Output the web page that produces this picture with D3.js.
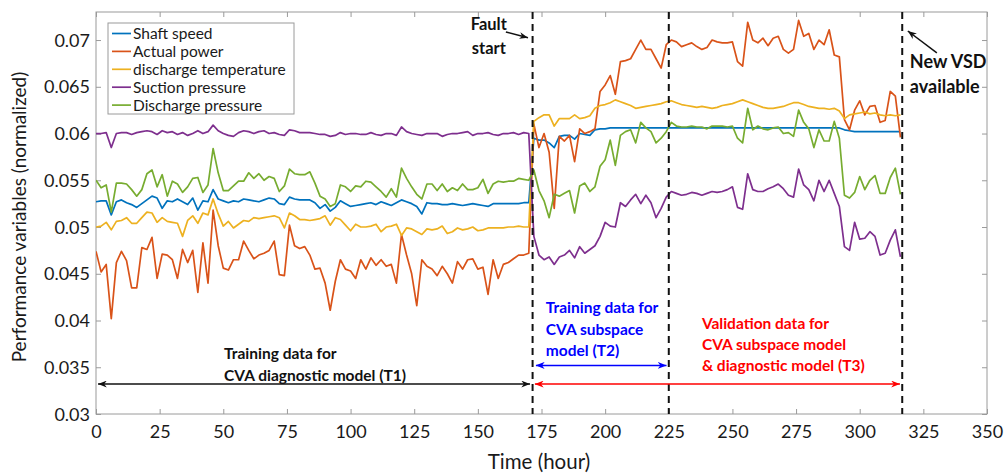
<!DOCTYPE html>
<html><head><meta charset="utf-8">
<script src="https://cdn.jsdelivr.net/npm/d3@7"></script>
<style>html,body{margin:0;padding:0;background:#fff;} svg{display:block;}</style>
</head><body><svg id="chart" width="1005" height="474"></svg>
<script>
// ---------------- data (sampled every 2 hours, 0..316 h) ----------------
const hours = d3.range(0, 317, 2);

const shaftSpeed = [
0.0527,0.0528,0.0528,0.0513,0.0527,0.0529,0.0526,0.0524,0.0521,0.0525,
0.0529,0.0533,0.0531,0.0520,0.0528,0.0527,0.0530,0.0527,0.0524,0.0531,
0.0518,0.0528,0.0527,0.0540,0.0530,0.0528,0.0526,0.0528,0.0527,0.0530,
0.0529,0.0528,0.0527,0.0529,0.0531,0.0530,0.0525,0.0524,0.0532,0.0530,
0.0529,0.0529,0.0529,0.0526,0.0520,0.0524,0.0517,0.0521,0.0528,0.0525,
0.0522,0.0523,0.0524,0.0525,0.0526,0.0524,0.0527,0.0525,0.0523,0.0526,
0.0529,0.0527,0.0525,0.0522,0.0514,0.0526,0.0525,0.0525,0.0524,0.0524,
0.0525,0.0524,0.0523,0.0524,0.0525,0.0524,0.0523,0.0522,0.0525,0.0525,
0.0525,0.0525,0.0525,0.0525,0.0526,0.0526,0.0595,0.0593,0.0593,0.0590,
0.0585,0.0597,0.0598,0.0598,0.0594,0.0600,0.0599,0.0598,0.0604,0.0605,
0.0605,0.0606,0.0606,0.0606,0.0606,0.0606,0.0606,0.0606,0.0606,0.0606,
0.0606,0.0606,0.0606,0.0606,0.0606,0.0606,0.0606,0.0606,0.0606,0.0606,
0.0606,0.0606,0.0606,0.0606,0.0606,0.0606,0.0606,0.0606,0.0606,0.0606,
0.0606,0.0606,0.0606,0.0606,0.0606,0.0606,0.0606,0.0606,0.0606,0.0606,
0.0606,0.0606,0.0606,0.0606,0.0606,0.0606,0.0606,0.0604,0.0603,0.0602,
0.0602,0.0602,0.0602,0.0602,0.0602,0.0602,0.0602,0.0602,0.0602];

const actualPower = [
0.0474,0.0452,0.0460,0.0402,0.0462,0.0474,0.0464,0.0435,0.0435,0.0478,
0.0476,0.0489,0.0445,0.0471,0.0470,0.0465,0.0445,0.0476,0.0462,0.0475,
0.0430,0.0483,0.0440,0.0518,0.0480,0.0456,0.0454,0.0465,0.0465,0.0485,
0.0475,0.0466,0.0470,0.0472,0.0475,0.0485,0.0449,0.0448,0.0502,0.0480,
0.0477,0.0479,0.0470,0.0455,0.0456,0.0440,0.0411,0.0442,0.0465,0.0455,
0.0453,0.0445,0.0465,0.0455,0.0467,0.0459,0.0465,0.0458,0.0460,0.0440,
0.0492,0.0470,0.0450,0.0416,0.0465,0.0458,0.0455,0.0448,0.0458,0.0450,
0.0440,0.0463,0.0455,0.0465,0.0466,0.0455,0.0457,0.0428,0.0465,0.0445,
0.0460,0.0462,0.0466,0.0470,0.0470,0.0472,0.0610,0.0585,0.0600,0.0580,
0.0520,0.0597,0.0592,0.0598,0.0570,0.0605,0.0600,0.0602,0.0605,0.0645,
0.0652,0.0662,0.0642,0.0677,0.0678,0.0680,0.0690,0.0700,0.0690,0.0690,
0.0680,0.0670,0.0695,0.0700,0.0698,0.0693,0.0695,0.0697,0.0693,0.0690,
0.0692,0.0700,0.0698,0.0697,0.0697,0.0698,0.0677,0.0672,0.0719,0.0700,
0.0697,0.0702,0.0694,0.0702,0.0704,0.0690,0.0686,0.0690,0.0721,0.0704,
0.0707,0.0690,0.0700,0.0695,0.0711,0.0684,0.0682,0.0615,0.0604,0.0625,
0.0635,0.0620,0.0629,0.0630,0.0612,0.0614,0.0645,0.0640,0.0596];

const dischargeTemperature = [
0.0500,0.0501,0.0505,0.0497,0.0506,0.0507,0.0510,0.0504,0.0504,0.0510,
0.0516,0.0515,0.0505,0.0510,0.0506,0.0505,0.0504,0.0490,0.0507,0.0512,
0.0504,0.0515,0.0513,0.0530,0.0514,0.0501,0.0506,0.0499,0.0503,0.0507,
0.0506,0.0510,0.0509,0.0510,0.0511,0.0512,0.0510,0.0499,0.0515,0.0512,
0.0508,0.0508,0.0507,0.0508,0.0509,0.0512,0.0502,0.0510,0.0508,0.0502,
0.0496,0.0503,0.0500,0.0500,0.0501,0.0503,0.0495,0.0500,0.0501,0.0503,
0.0491,0.0499,0.0498,0.0495,0.0492,0.0498,0.0497,0.0498,0.0501,0.0493,
0.0495,0.0499,0.0497,0.0498,0.0500,0.0496,0.0497,0.0499,0.0499,0.0499,
0.0499,0.0500,0.0500,0.0501,0.0500,0.0500,0.0613,0.0617,0.0620,0.0620,
0.0608,0.0616,0.0616,0.0616,0.0620,0.0616,0.0617,0.0619,0.0627,0.0630,
0.0631,0.0633,0.0636,0.0634,0.0632,0.0630,0.0627,0.0628,0.0629,0.0630,
0.0631,0.0632,0.0634,0.0635,0.0633,0.0631,0.0630,0.0629,0.0628,0.0629,
0.0628,0.0627,0.0628,0.0630,0.0631,0.0632,0.0634,0.0636,0.0634,0.0632,
0.0630,0.0628,0.0627,0.0627,0.0628,0.0629,0.0631,0.0633,0.0633,0.0631,
0.0629,0.0628,0.0627,0.0627,0.0626,0.0627,0.0624,0.0616,0.0620,0.0621,
0.0622,0.0623,0.0621,0.0622,0.0620,0.0619,0.0620,0.0619,0.0620];

const suctionPressure = [
0.0600,0.0600,0.0601,0.0585,0.0600,0.0601,0.0601,0.0599,0.0601,0.0602,
0.0603,0.0602,0.0599,0.0603,0.0601,0.0602,0.0599,0.0601,0.0598,0.0600,
0.0603,0.0600,0.0602,0.0609,0.0603,0.0600,0.0598,0.0597,0.0601,0.0603,
0.0602,0.0600,0.0602,0.0603,0.0600,0.0601,0.0599,0.0598,0.0604,0.0603,
0.0601,0.0601,0.0601,0.0600,0.0599,0.0599,0.0597,0.0598,0.0601,0.0599,
0.0600,0.0600,0.0599,0.0599,0.0601,0.0599,0.0598,0.0600,0.0600,0.0598,
0.0607,0.0602,0.0600,0.0599,0.0598,0.0600,0.0600,0.0600,0.0597,0.0599,
0.0600,0.0600,0.0601,0.0602,0.0598,0.0600,0.0600,0.0601,0.0599,0.0598,
0.0600,0.0600,0.0601,0.0599,0.0601,0.0600,0.0490,0.0470,0.0465,0.0468,
0.0460,0.0468,0.0470,0.0475,0.0467,0.0479,0.0472,0.0476,0.0480,0.0490,
0.0505,0.0501,0.0500,0.0526,0.0522,0.0529,0.0535,0.0525,0.0534,0.0526,
0.0510,0.0520,0.0532,0.0538,0.0536,0.0534,0.0535,0.0537,0.0536,0.0534,
0.0536,0.0538,0.0537,0.0538,0.0540,0.0543,0.0521,0.0519,0.0557,0.0540,
0.0538,0.0538,0.0541,0.0543,0.0546,0.0541,0.0534,0.0532,0.0562,0.0545,
0.0540,0.0528,0.0550,0.0538,0.0550,0.0536,0.0522,0.0479,0.0475,0.0505,
0.0487,0.0488,0.0495,0.0490,0.0470,0.0472,0.0486,0.0497,0.0468];

const dischargePressure = [
0.0550,0.0542,0.0545,0.0516,0.0547,0.0547,0.0546,0.0540,0.0533,0.0540,
0.0557,0.0561,0.0543,0.0556,0.0533,0.0549,0.0546,0.0537,0.0543,0.0552,
0.0553,0.0537,0.0545,0.0584,0.0558,0.0539,0.0539,0.0544,0.0549,0.0549,
0.0558,0.0552,0.0557,0.0550,0.0554,0.0552,0.0538,0.0544,0.0562,0.0557,
0.0556,0.0556,0.0559,0.0547,0.0533,0.0530,0.0522,0.0525,0.0545,0.0543,
0.0538,0.0544,0.0543,0.0549,0.0548,0.0543,0.0538,0.0532,0.0541,0.0532,
0.0563,0.0552,0.0543,0.0535,0.0530,0.0546,0.0546,0.0539,0.0546,0.0538,
0.0542,0.0539,0.0546,0.0540,0.0540,0.0542,0.0551,0.0536,0.0546,0.0549,
0.0548,0.0549,0.0549,0.0552,0.0551,0.0550,0.0561,0.0539,0.0528,0.0510,
0.0535,0.0533,0.0536,0.0539,0.0515,0.0544,0.0547,0.0538,0.0543,0.0565,
0.0572,0.0593,0.0566,0.0598,0.0602,0.0604,0.0590,0.0612,0.0606,0.0602,
0.0590,0.0595,0.0602,0.0612,0.0608,0.0607,0.0607,0.0608,0.0607,0.0607,
0.0605,0.0608,0.0608,0.0608,0.0607,0.0608,0.0595,0.0590,0.0627,0.0604,
0.0608,0.0605,0.0604,0.0606,0.0607,0.0600,0.0601,0.0597,0.0625,0.0612,
0.0605,0.0585,0.0604,0.0592,0.0592,0.0613,0.0595,0.0534,0.0531,0.0537,
0.0554,0.0540,0.0550,0.0555,0.0536,0.0536,0.0553,0.0563,0.0535];

const seriesNames = ["Shaft speed","Actual power","discharge temperature","Suction pressure","Discharge pressure"];
const seriesValues = [shaftSpeed, actualPower, dischargeTemperature, suctionPressure, dischargePressure];
const seriesColors = ["#0072BD","#D95319","#EDB120","#7E2F8E","#77AC30"];

const xTicks = [0,25,50,75,100,125,150,175,200,225,250,275,300,325,350];
const yTicks = [0.03,0.035,0.04,0.045,0.05,0.055,0.06,0.065,0.07];
const yTickLabels = ["0.03","0.035","0.04","0.045","0.05","0.055","0.06","0.065","0.07"];

const phaseBoundaries = [171.5, 225, 316.7];   // fault start, end of T2, new VSD

// ---------------- layout ----------------
const FONT = "Lato, 'Open Sans', 'DejaVu Sans', sans-serif";
const svg = d3.select("#chart").style("font-family", FONT);
const plot = {left:96, right:987, top:12, bottom:414};
const x = d3.scaleLinear().domain([0,350]).range([plot.left, plot.right]);
const y = d3.scaleLinear().domain([0.03,0.073]).range([plot.bottom, plot.top]);
const axisColor = "#9a9a9a", textColor = "#1a1a1a";

svg.append("rect").attr("width",1005).attr("height",474).attr("fill","#fff");

function styleAxis(g, withText){
  g.attr("font-family", FONT).attr("font-size", 18);
  g.select(".domain").remove();
  g.selectAll(".tick line").attr("stroke", axisColor).attr("stroke-width",1);
  if(!withText) g.selectAll(".tick text").remove();
  else g.selectAll(".tick text").attr("fill", textColor);
}
const gB = svg.append("g").attr("transform",`translate(0,${plot.bottom})`)
  .call(d3.axisBottom(x).tickValues(xTicks).tickSize(-5).tickFormat(d=>String(d)));
styleAxis(gB, true);
gB.selectAll(".tick text").attr("y", 23.5).attr("dy", 0);
const gT = svg.append("g").attr("transform",`translate(0,${plot.top})`)
  .call(d3.axisTop(x).tickValues(xTicks).tickSize(-5));
styleAxis(gT, false);
const gL = svg.append("g").attr("transform",`translate(${plot.left},0)`)
  .call(d3.axisLeft(y).tickValues(yTicks).tickSize(-5).tickFormat((d,i)=>yTickLabels[i]));
styleAxis(gL, true);
gL.selectAll(".tick text").attr("x", -6).attr("dy","0.34em");
const gR = svg.append("g").attr("transform",`translate(${plot.right},0)`)
  .call(d3.axisRight(y).tickValues(yTicks).tickSize(-5));
styleAxis(gR, false);

svg.append("rect").attr("x",plot.left).attr("y",plot.top)
  .attr("width",plot.right-plot.left).attr("height",plot.bottom-plot.top)
  .attr("fill","none").attr("stroke",axisColor).attr("stroke-width",1);

// axis titles
svg.append("text").attr("transform",`translate(26,${(plot.top+plot.bottom)/2+4}) rotate(-90)`)
  .attr("text-anchor","middle").attr("font-size",19).attr("fill",textColor)
  .text("Performance variables (normalized)");
svg.append("text").attr("x",539).attr("y",469).attr("text-anchor","middle")
  .attr("font-size",20.5).attr("fill",textColor).text("Time (hour)");

// ---------------- data lines ----------------
svg.append("clipPath").attr("id","clip").append("rect")
  .attr("x",plot.left).attr("y",plot.top).attr("width",plot.right-plot.left).attr("height",plot.bottom-plot.top);
const line = d3.line().x((d,i)=>x(hours[i])).y(d=>y(d));
const gLines = svg.append("g").attr("clip-path","url(#clip)");
seriesValues.forEach((vals,k)=>{
  gLines.append("path").datum(vals).attr("d",line).attr("fill","none")
    .attr("stroke",seriesColors[k]).attr("stroke-width",1.7).attr("stroke-linejoin","round");
});

// ---------------- phase boundaries ----------------
svg.append("g").selectAll("line").data(phaseBoundaries).join("line")
  .attr("x1",d=>x(d)).attr("x2",d=>x(d)).attr("y1",plot.top).attr("y2",plot.bottom)
  .attr("stroke","#111").attr("stroke-width",2).attr("stroke-dasharray","7,5");

// ---------------- arrows ----------------
const defs = svg.append("defs");
function marker(id,color){
  defs.append("marker").attr("id",id).attr("viewBox","0 0 10 8").attr("refX",10).attr("refY",4)
    .attr("markerWidth",9).attr("markerHeight",7).attr("markerUnits","userSpaceOnUse")
    .attr("orient","auto-start-reverse")
    .append("path").attr("d","M0,0 L10,4 L0,8 L3,4 Z").attr("fill",color);
}
marker("ahK","#111"); marker("ahB","#0000FF"); marker("ahR","#FF0000");

const spans = [
  {from:0.8, to:170.5, v:0.0332, color:"#111", m:"ahK"},
  {from:172.8, to:224.1, v:0.0352, color:"#0000FF", m:"ahB"},
  {from:172.4, to:315.8, v:0.0332, color:"#FF0000", m:"ahR"}
];
svg.append("g").selectAll("line").data(spans).join("line")
  .attr("x1",d=>x(d.from)).attr("x2",d=>x(d.to)).attr("y1",d=>y(d.v)).attr("y2",d=>y(d.v))
  .attr("stroke",d=>d.color).attr("stroke-width",1.5)
  .attr("marker-start",d=>`url(#${d.m})`).attr("marker-end",d=>`url(#${d.m})`);

const pointers = [
  {x1:161.0, v1:0.07086, x2:169.7, v2:0.07025},
  {x1:330.3, v1:0.06862, x2:318.9, v2:0.07097}
];
svg.append("g").selectAll("line").data(pointers).join("line")
  .attr("x1",d=>x(d.x1)).attr("y1",d=>y(d.v1)).attr("x2",d=>x(d.x2)).attr("y2",d=>y(d.v2))
  .attr("stroke","#111").attr("stroke-width",1.5).attr("marker-end","url(#ahK)");

// ---------------- annotation text ----------------
function block(lines, t, vs, anchor, color, size){
  const g = svg.append("g");
  lines.forEach((s,i)=>{
    g.append("text").attr("x",x(t)).attr("y",y(vs[i])).attr("text-anchor",anchor)
      .attr("font-weight","bold").attr("font-size",size).attr("fill",color).text(s);
  });
}
block(["Fault","start"], 154.3, [0.07107,0.06851], "middle", "#111", 16.5);
block(["New VSD","available"], 319.7, [0.06698,0.06434], "start", "#111", 18);
block(["Training data for","CVA diagnostic model (T1)"], 50.3, [0.03588,0.03353], "start", "#111", 15.5);
block(["Training data for","CVA subspace","model (T2)"], 176.7, [0.04080,0.03850,0.03620], "start", "#0000FF", 15.5);
block(["Validation data for","CVA subspace model","& diagnostic model (T3)"], 238, [0.03909,0.03685,0.03460], "start", "#FF0000", 15.5);

// ---------------- legend ----------------
const lg = svg.append("g");
lg.append("rect").attr("x",108).attr("y",23).attr("width",186).attr("height",91)
  .attr("fill","#fff").attr("stroke",axisColor).attr("stroke-width",1);
seriesNames.forEach((n,i)=>{
  const cy = 33.5 + i*17.9;
  lg.append("line").attr("x1",112).attr("x2",131).attr("y1",cy).attr("y2",cy)
    .attr("stroke",seriesColors[i]).attr("stroke-width",1.7);
  lg.append("text").attr("x",133).attr("y",cy).attr("dy","0.35em").attr("font-size",15.5)
    .attr("fill",textColor).text(n);
});
</script></body></html>
